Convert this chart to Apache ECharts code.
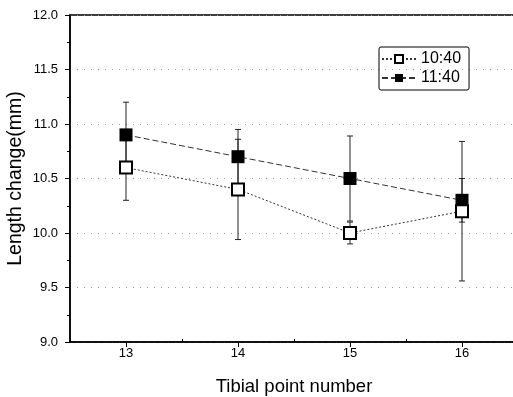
<!DOCTYPE html>
<html>
<head>
<meta charset="utf-8">
<script src="https://cdn.jsdelivr.net/npm/echarts@6/dist/echarts.min.js"></script>
<style>
  html, body { margin: 0; padding: 0; background: #fff; }
  #main { width: 513px; height: 397px; }
</style>
</head>
<body>
<div id="main"></div>
<script>
// tibial point numbers on the x axis
var points = [13, 14, 15, 16];
// length change (mm) at 10:40 and its error
var early = [10.6, 10.4, 10.0, 10.2];
var earlyErr = [0.3, 0.46, 0.1, 0.64];
// length change (mm) at 11:40 and its error
var late = [10.9, 10.7, 10.5, 10.3];
var lateErr = [0.3, 0.25, 0.39, 0.2];
var yTicks = [9.0, 9.5, 10.0, 10.5, 11.0, 11.5, 12.0];
var minorX = [12.5, 13.5, 14.5, 15.5, 16.5];

var font = 'Liberation Sans';
var myChart = echarts.init(document.getElementById('main'));

function pairs(ys) {
  return points.map(function (x, i) { return [x, ys[i]]; });
}
function errData(ys, errs) {
  return points.map(function (x, i) { return [x, ys[i] - errs[i], ys[i] + errs[i]]; });
}

// draws a vertical error bar with caps
function renderErr(params, api) {
  var lo = api.coord([api.value(0), api.value(1)]);
  var hi = api.coord([api.value(0), api.value(2)]);
  var w = 3;
  var st = { stroke: '#222', lineWidth: 1 };
  return {
    type: 'group',
    children: [
      { type: 'line', shape: { x1: lo[0], y1: lo[1], x2: hi[0], y2: hi[1] }, style: st },
      { type: 'line', shape: { x1: lo[0] - w, y1: lo[1], x2: lo[0] + w, y2: lo[1] }, style: st },
      { type: 'line', shape: { x1: hi[0] - w, y1: hi[1], x2: hi[0] + w, y2: hi[1] }, style: st }
    ]
  };
}

var option = {
  animation: false,
  textStyle: { fontFamily: font, color: '#000' },
  grid: {
    left: 70, top: 15, bottom: 55, right: -5,
    outerBoundsMode: 'none', containLabel: false,
    show: true, borderColor: '#000', borderWidth: 1.5, backgroundColor: 'transparent'
  },
  legend: {
    data: ['10:40', '11:40'],
    orient: 'vertical',
    left: 379, top: 47,
    borderColor: '#000', borderWidth: 1, borderRadius: 2,
    padding: [4, 8, 4, 2],
    itemWidth: 34, itemHeight: 10, itemGap: 3,
    textStyle: { fontFamily: font, fontSize: 16, color: '#000' }
  },
  xAxis: [{
    type: 'value', min: 12.5, max: 16.5,
    name: 'Tibial point number', nameLocation: 'middle', nameGap: 35,
    nameTextStyle: { fontFamily: font, fontSize: 18.5, color: '#000' },
    axisLine: { lineStyle: { color: '#000', width: 1.5 } },
    axisTick: { customValues: points, inside: false, length: 5, lineStyle: { color: '#000' } },
    axisLabel: { customValues: points, margin: 5, fontSize: 13, color: '#000', fontFamily: font },
    splitLine: { show: false }
  }, {
    type: 'value', min: 12.5, max: 16.5, position: 'bottom',
    axisLine: { show: false },
    axisTick: { customValues: minorX, inside: true, length: 3, lineStyle: { color: '#000' } },
    axisLabel: { show: false },
    splitLine: { show: false }
  }],
  yAxis: {
    type: 'value', min: 9, max: 12, interval: 0.5,
    name: 'Length change(mm)', nameLocation: 'middle', nameGap: 44, nameMoveOverlap: false,
    nameTextStyle: { fontFamily: font, fontSize: 19.5, color: '#000' },
    axisLine: { show: true, lineStyle: { color: '#000', width: 1.5 } },
    axisTick: { show: true, inside: false, length: 5, lineStyle: { color: '#000' } },
    minorTick: { show: true, splitNumber: 2, length: 3, lineStyle: { color: '#000' } },
    axisLabel: {
      margin: 12, fontSize: 13, color: '#000', fontFamily: font,
      formatter: function (v) { return yTicks.indexOf(v) >= 0 ? v.toFixed(1) : ''; }
    },
    splitLine: { show: true, lineStyle: { color: '#999', type: [1, 6], width: 1 } }
  },
  series: [
    {
      type: 'custom', name: 'err10', renderItem: renderErr, z: 1,
      data: errData(early, earlyErr), encode: { x: 0, y: [1, 2] }, silent: true
    },
    {
      type: 'custom', name: 'err11', renderItem: renderErr, z: 1,
      data: errData(late, lateErr), encode: { x: 0, y: [1, 2] }, silent: true
    },
    {
      name: '11:40', type: 'line', data: pairs(late), z: 3,
      symbol: 'rect', symbolSize: 13,
      itemStyle: { color: '#000', borderColor: '#000', borderWidth: 0 },
      lineStyle: { color: '#333', width: 1, type: [6, 3] }
    },
    {
      name: '10:40', type: 'line', data: pairs(early), z: 4,
      symbol: 'rect', symbolSize: 12,
      itemStyle: { color: '#fff', borderColor: '#000', borderWidth: 2 },
      lineStyle: { color: '#333', width: 1, type: [2, 2] }
    }
  ]
};
myChart.setOption(option);
</script>
</body>
</html>
